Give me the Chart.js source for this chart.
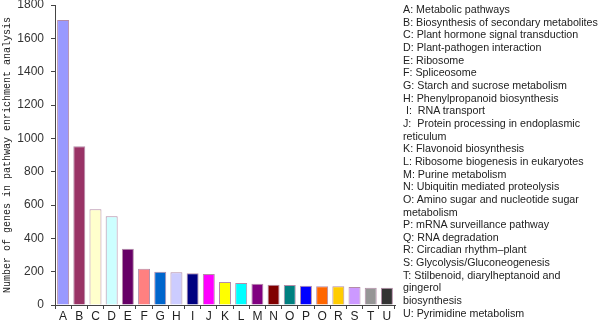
<!DOCTYPE html>
<html>
<head>
<meta charset="utf-8">
<script src="https://cdn.jsdelivr.net/npm/chart.js@4/dist/chart.umd.min.js"></script>
<style>
  html, body { margin: 0; padding: 0; background: #fff; }
  #wrap { position: relative; width: 600px; height: 320px; }
  #c { position: absolute; left: 0; top: 0; }
  #legend { position: absolute; left: 403px; top: 3px; font-family: "Liberation Sans", Arial, sans-serif;
            font-size: 10.7px; line-height: 12.65px; color: #222; white-space: pre; }
</style>
</head>
<body>
<div id="wrap">
  <canvas id="c" width="600" height="320"></canvas>
  <div id="legend"></div>
</div>
<script>
const categories = ["A","B","C","D","E","F","G","H","I","J","K","L","M","N","O","P","Q","R","S","T","U"];
const geneCounts = [1710, 952, 574, 532, 338, 218, 200, 196, 190, 186, 138, 132, 128, 122, 120, 116, 112, 112, 108, 104, 104];
const barColors = ["#9999ff","#993366","#ffffcc","#ccffff","#660066","#ff8080","#0066cc","#ccccff","#000080","#ff00ff",
                   "#ffff00","#00ffff","#800080","#800000","#008080","#0000ff","#ff6600","#ffcc00","#cc99ff","#969696","#333333"];
const yTicks = [0, 200, 400, 600, 800, 1000, 1200, 1400, 1600, 1800];
const yTitle = "Number of genes in pathway enrichment analysis";
const legendLines = [
  "A: Metabolic pathways",
  "B: Biosynthesis of secondary metabolites",
  "C: Plant hormone signal transduction",
  "D: Plant-pathogen interaction",
  "E: Ribosome",
  "F: Spliceosome",
  "G: Starch and sucrose metabolism",
  "H: Phenylpropanoid biosynthesis",
  " I:  RNA transport",
  "J:  Protein processing in endoplasmic",
  "reticulum",
  "K: Flavonoid biosynthesis",
  "L: Ribosome biogenesis in eukaryotes",
  "M: Purine metabolism",
  "N: Ubiquitin mediated proteolysis",
  "O: Amino sugar and nucleotide sugar",
  "metabolism",
  "P: mRNA surveillance pathway",
  "Q: RNA degradation",
  "R: Circadian rhythm\u2013plant",
  "S: Glycolysis/Gluconeogenesis",
  "T: Stilbenoid, diarylheptanoid and",
  "gingerol",
  "biosynthesis",
  "U: Pyrimidine metabolism"
];

document.getElementById('legend').textContent = legendLines.join("\n");

new Chart(document.getElementById('c'), {
  type: 'bar',
  data: {
    labels: categories,
    datasets: [{
      data: geneCounts,
      backgroundColor: barColors,
      borderColor: '#b48ca8',
      borderWidth: 1,
      barPercentage: 0.74,
      categoryPercentage: 1.0
    }]
  },
  options: {
    responsive: false,
    animation: false,
    devicePixelRatio: 1,
    layout: { padding: { left: 0, right: 205, top: 5, bottom: 0 } },
    plugins: { legend: { display: false }, tooltip: { enabled: false } },
    scales: {
      x: {
        grid: { display: true, drawOnChartArea: false, drawTicks: true, tickLength: 4, color: '#444', offset: true },
        border: { display: true, color: '#444', width: 1 },
        ticks: { color: '#222', font: { family: 'Liberation Sans', size: 12 }, padding: 0, autoSkip: false, maxRotation: 0 },
        afterFit: (s) => { s.height = 15; s.paddingLeft = 0; s.paddingRight = 0; }
      },
      y: {
        min: 0, max: 1800,
        afterBuildTicks: (s) => { s.ticks = yTicks.map(v => ({ value: v })); },
        grid: { display: true, drawOnChartArea: false, drawTicks: true, tickLength: 4, color: '#444' },
        border: { display: true, color: '#444', width: 1 },
        ticks: { color: '#333', font: { family: 'Liberation Sans', size: 12 }, padding: 7, callback: (v) => String(v) },
        title: { display: true, text: yTitle, color: '#222', font: { family: 'Liberation Mono', size: 10 }, padding: { top: 1, bottom: 0 } },
        afterFit: (s) => { s.width = 55; s.paddingTop = 0; s.paddingBottom = 0; }
      }
    }
  }
});
</script>
</body>
</html>
